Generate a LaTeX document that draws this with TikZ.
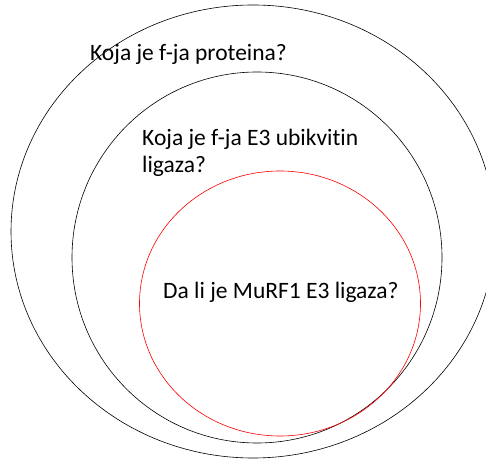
\documentclass[tikz,border=0pt]{standalone}
\usepackage{fontspec}
\setmainfont{Carlito}[Ligatures=NoCommon]
\usepackage{xcolor}
\definecolor{setred}{HTML}{FF0000}
\tikzset{
  setline/.style={line width=0.6pt},
  question/.style={font=\fontsize{23.5}{27}\selectfont, inner sep=0pt, align=left}
}

\begin{document}
\begin{tikzpicture}[x=1pt,y=1pt]
  \useasboundingbox (0,0) rectangle (486,460);
  \clip (0,0) rectangle (486,460);
  % Sets
  \draw[setline] (253,228.5) ellipse [x radius=242, y radius=226.5];
  \draw[setline] (257,202.5) ellipse [x radius=185, y radius=185.5];
  \draw[setline,setred] (280,156.5) ellipse [x radius=140.5, y radius=132.5];
  % Questions
  \node[question,anchor=base west] (protein) at (90,399) {Koja je f-ja proteina?};
  \node[question,anchor=north west] (ligase) at (142,331) {Koja je f-ja E3 ubikvitin\\ligaza?};
  \node[question,anchor=base west] (murf) at (163,161) {Da li je MuRF1 E3 ligaza?};
\end{tikzpicture}
\end{document}
